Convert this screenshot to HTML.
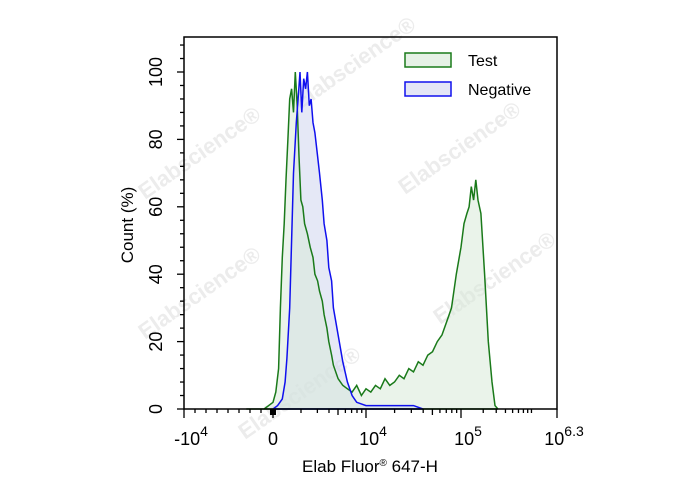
<!DOCTYPE html>
<html><head><meta charset="utf-8"><style>
body{margin:0;background:#fff}
svg text{font-family:"Liberation Sans",Arial,sans-serif}
</style></head><body>
<svg id="chart" width="688" height="490" viewBox="0 0 688 490">
<g id="wm" fill="#ececec" font-size="22" font-weight="bold">
<text transform="translate(145,200) rotate(-35)">Elabscience®</text>
<text transform="translate(300,110) rotate(-35)">Elabscience®</text>
<text transform="translate(405,195) rotate(-35)">Elabscience®</text>
<text transform="translate(145,340) rotate(-35)">Elabscience®</text>
<text transform="translate(440,325) rotate(-35)">Elabscience®</text>
<text transform="translate(245,440) rotate(-35)">Elabscience®</text>
</g>
<g id="fills"></g>
<g id="lines"></g>
<rect x="184" y="37" width="373" height="372" fill="none" stroke="#000" stroke-width="1.5"/>
<g id="axes"></g>
<g>
<rect x="405" y="53" width="46" height="14" fill="#e6f1e6" stroke="#1a7a1a" stroke-width="1.5"/>
<text x="468" y="66" font-size="16">Test</text>
<rect x="405" y="82" width="46" height="14" fill="#e4e6f6" stroke="#1010ee" stroke-width="1.5"/>
<text x="468" y="95" font-size="16">Negative</text>
</g>
<text transform="translate(133,225) rotate(-90)" text-anchor="middle" font-size="17">Count  (%)</text>
<text x="370" y="472" text-anchor="middle" font-size="17">Elab Fluor<tspan font-size="10" dy="-6">®</tspan><tspan dy="6"> 647-H</tspan></text>
</svg>
<script>
const testX=[-0.3,-0.1,0,0.03,0.06,0.08,0.1,0.12,0.14,0.16,0.18,0.2,0.22,0.24,0.26,0.28,0.3,0.32,0.34,0.37,0.4,0.43,0.45,0.48,0.5,0.53,0.55,0.58,0.6,0.63,0.65,0.7,0.75,0.8,0.85,0.9,0.95,1.0,1.05,1.1,1.15,1.2,1.25,1.3,1.35,1.4,1.45,1.5,1.55,1.6,1.65,1.7,1.75,1.8,1.85,1.9,1.95,2.0,2.04,2.08,2.11,2.14,2.17,2.2,2.23,2.27,2.32,2.37,2.42,2.46,2.5];
const testY=[0,0,2,5,12,30,45,55,68,80,92,95,88,100,90,75,62,60,55,52,48,45,40,38,35,32,28,24,20,16,13,9,7,6,5,7,4,6,5,7,6,9,7,8,10,9,12,11,14,13,16,17,20,22,26,30,40,48,55,58,60,66,62,68,62,58,40,20,8,1,0];
const negX=[0.0,0.05,0.1,0.13,0.15,0.18,0.2,0.22,0.25,0.27,0.29,0.31,0.33,0.35,0.37,0.39,0.41,0.43,0.45,0.48,0.5,0.53,0.55,0.58,0.6,0.63,0.65,0.7,0.75,0.8,0.85,0.9,1.0,1.2,1.5,1.6];
const negY=[0,1,3,8,15,30,50,70,85,92,100,88,98,95,100,90,92,85,82,75,70,62,55,50,42,38,30,22,14,8,4,2,1,1,1,0];
const yTicks=[0,20,40,60,80,100];
const xAnchorsT=[-1,0,1,2,3.3];
const xAnchorsPx=[184,273,366,461,557];
function sx(t){for(let i=0;i<xAnchorsT.length-1;i++){if(t<=xAnchorsT[i+1]||i==xAnchorsT.length-2){const a=xAnchorsT[i],b=xAnchorsT[i+1];return xAnchorsPx[i]+(t-a)/(b-a)*(xAnchorsPx[i+1]-xAnchorsPx[i]);}}}
function sy(v){return 409-v*3.37;}
const NS='http://www.w3.org/2000/svg';
const fills=document.getElementById('fills'),lines=document.getElementById('lines'),axes=document.getElementById('axes');
function area(xs,ys,fill,stroke,name){
 let d='M'+sx(xs[0])+','+sy(0);
 for(let i=0;i<xs.length;i++)d+=' L'+sx(xs[i]).toFixed(1)+','+sy(ys[i]).toFixed(1);
 d+=' L'+sx(xs[xs.length-1])+','+sy(0)+'Z';
 const p=document.createElementNS(NS,'path');
 p.setAttribute('d',d);p.setAttribute('fill',fill);p.setAttribute('fill-opacity','0.55');
 p.setAttribute('stroke','none');
 
 
 fills.appendChild(p);
 const q=document.createElementNS(NS,'path');
 q.setAttribute('d',d);q.setAttribute('fill','none');
 q.setAttribute('stroke',stroke);q.setAttribute('stroke-width','1.5');
 
 
 lines.appendChild(q);
}
area(negX,negY,'#cfd6ee','#1010ee','negative-histogram');
area(testX,testY,'#d8ead8','#1a7a1a','test-histogram');
lines.insertBefore(lines.lastChild,lines.firstChild);
function line(x1,y1,x2,y2){const l=document.createElementNS(NS,'line');l.setAttribute('x1',x1);l.setAttribute('y1',y1);l.setAttribute('x2',x2);l.setAttribute('y2',y2);l.setAttribute('stroke','#000');l.setAttribute('stroke-width','1.3');axes.appendChild(l);return l;}
function text(x,y,s,anchor,rot){const t=document.createElementNS(NS,'text');t.setAttribute('font-size','18');t.setAttribute('text-anchor',anchor);t.textContent=s;
 if(rot)t.setAttribute('transform','translate('+x+','+y+') rotate(-90)');else{t.setAttribute('x',x);t.setAttribute('y',y);}axes.appendChild(t);return t;}
for(let v=0;v<=108;v+=4){line(184,sy(v),v%20==0?177:180,sy(v));}
yTicks.forEach(v=>{const t=text(162,sy(v),String(v),'middle',true);
 
 });
const xLabels=[['-10','4'],['0',''],['10','4'],['10','5'],['10','6.3']];
xAnchorsPx.forEach((px,i)=>{line(px,409,px,418);
 const t=text(px,445,'','middle',false);t.textContent=xLabels[i][0];
 if(xLabels[i][1]){const s=document.createElementNS(NS,'tspan');s.setAttribute('dy','-9');s.setAttribute('font-size','14');s.textContent=xLabels[i][1];t.appendChild(s);t.setAttribute('x',px+7);}
 
 });
[1,2].forEach(d=>{for(let k=2;k<=9;k++){const px=sx(d-1+Math.log10(k));line(px,409,px,k==5?415:413);}});
for(let k=2;k<=9;k++){const px=sx(2+Math.log10(k)*1.0);if(px<557)line(px,409,px,413);}
for(let k=1;k<8;k++){line(184+k*11,409,184+k*11,413);}
const r=document.createElementNS(NS,'rect');r.setAttribute('x',270);r.setAttribute('y',409);r.setAttribute('width',6);r.setAttribute('height',6);axes.appendChild(r);
</script>
</body></html>
